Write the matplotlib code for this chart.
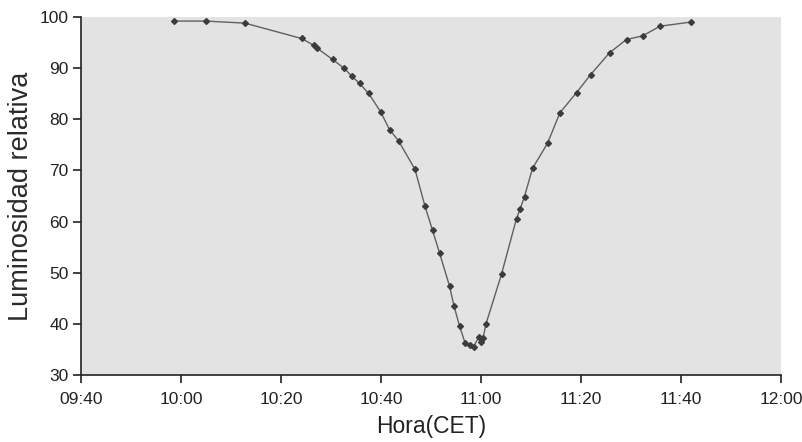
import matplotlib
matplotlib.use("Agg")
import matplotlib.pyplot as plt

# Observation times (CET) and relative luminosity
times = ["09:58:36", "10:05:00", "10:12:48", "10:24:06", "10:26:30", "10:27:06",
         "10:30:18", "10:32:36", "10:34:06", "10:35:42", "10:37:30", "10:39:54",
         "10:41:42", "10:43:30", "10:46:48", "10:48:48", "10:50:18", "10:51:42",
         "10:53:42", "10:54:36", "10:55:42", "10:56:48", "10:57:48", "10:58:30",
         "10:59:36", "11:00:00", "11:00:24", "11:01:00", "11:04:06", "11:07:06",
         "11:07:48", "11:08:42", "11:10:18", "11:13:18", "11:15:48", "11:19:06",
         "11:21:54", "11:25:42", "11:29:06", "11:32:18", "11:35:48", "11:41:54"]
luminosity = [99.2, 99.2, 98.8, 95.8, 94.5, 94.0,
              91.7, 90.0, 88.5, 87.0, 85.1, 81.5,
              78.0, 75.8, 70.2, 63.0, 58.3, 53.9,
              47.4, 43.5, 39.6, 36.3, 35.9, 35.5,
              37.5, 36.5, 37.2, 40.0, 49.7, 60.6,
              62.4, 64.9, 70.4, 75.3, 81.3, 85.2,
              88.7, 93.0, 95.6, 96.3, 98.2, 99.0]
x_tick_labels = ["09:40", "10:00", "10:20", "10:40", "11:00", "11:20", "11:40", "12:00"]
y_ticks = [30, 40, 50, 60, 70, 80, 90, 100]


def to_min(s):
    p = [int(v) for v in s.split(":")]
    h, m = p[0], p[1]
    sec = p[2] if len(p) > 2 else 0
    return h * 60 + m + sec / 60.0


xs = [to_min(t) for t in times]
xt = [to_min(t) for t in x_tick_labels]

plt.rcParams['font.family'] = ['Liberation Sans', 'DejaVu Sans']

fig = plt.figure(figsize=(8.02, 4.42), dpi=100)
ax = fig.add_axes([81 / 802, 1 - 375 / 442, 700 / 802, 358 / 442])
ax.set_facecolor("#e3e3e3")

ax.plot(xs, luminosity, color="#606060", lw=1.0, marker="D", ms=3.0,
        mfc="#3c3c3c", mec="#3c3c3c", zorder=3)

ax.set_xlim(xt[0], xt[-1])
ax.set_ylim(30, 100)
ax.set_xticks(xt)
ax.set_xticklabels(x_tick_labels)
ax.set_yticks(y_ticks)

for s in ["top", "right"]:
    ax.spines[s].set_visible(False)
for s in ["left", "bottom"]:
    ax.spines[s].set_color("#222222")
    ax.spines[s].set_linewidth(1.2)

ax.tick_params(axis="both", direction="out", length=6, width=1.2, color="#222222",
               labelsize=12.5, labelcolor="#222222")
ax.tick_params(axis="x", pad=6)
ax.tick_params(axis="y", pad=3)

ax.set_xlabel("Hora(CET)", fontsize=16.5, color="#222222", labelpad=6)
ax.set_ylabel("Luminosidad relativa", fontsize=19.5, color="#2a2a2a", labelpad=4)

fig.savefig("out.png", dpi=100, facecolor="white")
